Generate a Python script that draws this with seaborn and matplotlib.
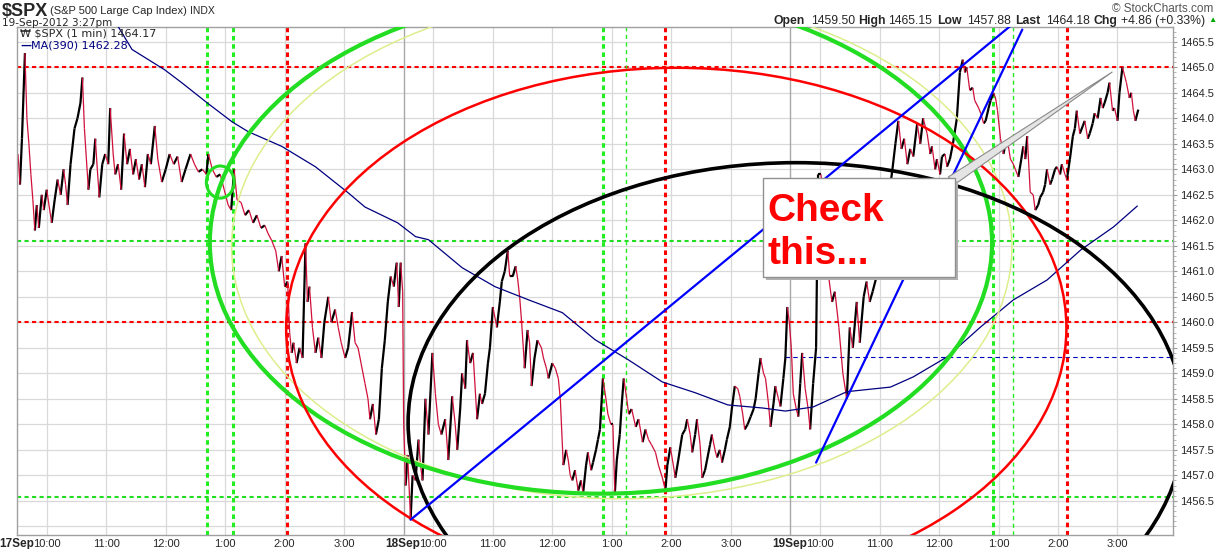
import matplotlib
matplotlib.use('Agg')
import numpy as np
import pandas as pd
import matplotlib.pyplot as plt
import seaborn as sns
from matplotlib.collections import LineCollection
from matplotlib.patches import Ellipse, Rectangle, Polygon

# 1 minute bars, 390 per session (17, 18, 19 Sep); bar number and last price
minute = [1, 3, 5, 8, 10, 12, 14, 16, 18, 20, 22, 25, 27, 30, 33, 35, 38, 41, 44, 47,
          49, 51, 54, 58, 61, 64, 66, 68, 70, 72, 74, 77, 79, 81, 83, 86, 89, 92, 94, 97,
          99, 102, 105, 108, 111, 114, 117, 120, 123, 126, 129, 132, 135, 139, 142, 146, 150, 154, 158, 162,
          166, 170, 175, 179, 183, 187, 191, 193, 197, 201, 205, 209, 213, 216, 219, 222, 226, 230, 234, 238,
          242, 246, 250, 253, 257, 261, 264, 267, 270, 273, 275, 277, 279, 282, 285, 288, 291, 293, 295, 298,
          301, 304, 307, 310, 314, 317, 321, 324, 327, 331, 334, 338, 341, 344, 347, 351, 354, 356, 359, 362,
          365, 368, 371, 374, 377, 380, 383, 385, 387, 389,
          390, 392, 394, 397, 399, 402, 405, 407, 409, 412, 415, 419, 422, 425, 428, 432, 435, 439, 442, 444,
          447, 449, 452, 454, 457, 460, 464, 467, 469, 472, 475, 477, 480, 484, 487, 489, 492, 495, 497, 500,
          503, 505, 507, 509, 512, 515, 517, 519, 522, 525, 529, 531, 534, 536, 540, 543, 546, 548, 551, 554,
          556, 558, 560, 563, 566, 569, 571, 574, 576, 579, 581, 584, 586, 588, 591, 594, 596, 599, 601, 603,
          605, 608, 610, 612, 615, 617, 620, 624, 627, 631, 634, 637, 640, 644, 647, 651, 654, 656, 659, 662,
          664, 667, 671, 674, 676, 679, 681, 684, 686, 689, 691, 694, 696, 699, 701, 704, 706, 709, 711, 714,
          716, 719, 721, 724, 727, 729, 732, 734, 737, 740, 743, 745, 748, 750, 753, 755, 758, 760, 763, 765,
          768, 770, 773, 775, 777, 779,
          781, 783, 786, 788, 790, 792, 795, 798, 800, 803, 806, 808, 811, 814, 818, 822, 825, 829, 833, 837,
          840, 843, 847, 850, 854, 857, 860, 863, 867, 870, 875, 879, 883, 886, 889, 892, 895, 898, 901, 904,
          908, 911, 914, 918, 921, 923, 926, 928, 931, 933, 936, 938, 941, 944, 948, 951, 954, 956, 958, 961,
          964, 966, 970, 972, 975, 977, 980, 982, 985, 987, 989, 992, 995, 997, 1000, 1002, 1005, 1007, 1010, 1013,
          1015, 1017, 1019, 1022, 1025, 1027, 1030, 1032, 1035, 1037, 1039, 1042, 1044, 1047, 1049, 1052, 1054, 1057, 1059, 1062,
          1065, 1067, 1069, 1072, 1075, 1077, 1080, 1082, 1085, 1087, 1090, 1093, 1095, 1097, 1100, 1102, 1105, 1107, 1110, 1112,
          1115, 1117, 1119, 1122, 1124, 1126, 1128, 1131]
price = [1463.3, 1462.7, 1463.6, 1465.28, 1464.0, 1463.5, 1462.9, 1462.4, 1461.8, 1462.3, 1461.85, 1462.5, 1462.2, 1462.6, 1462.2, 1461.95, 1462.4, 1462.8, 1462.5, 1463.0,
         1462.7, 1462.3, 1463.1, 1463.8, 1464.0, 1464.3, 1464.8, 1463.8, 1463.2, 1462.6, 1463.0, 1463.1, 1463.6, 1463.0, 1462.45, 1463.1, 1463.3, 1463.1, 1464.2, 1463.3,
         1462.9, 1463.1, 1462.6, 1463.7, 1463.1, 1463.4, 1462.9, 1463.2, 1462.8, 1463.1, 1462.65, 1463.3, 1463.1, 1463.85, 1463.2, 1462.75, 1463.0, 1463.3, 1463.1, 1463.25,
         1462.75, 1463.0, 1463.3, 1463.1, 1462.95, 1463.0, 1462.9, 1463.3, 1463.0, 1462.85, 1462.9, 1462.6, 1462.3, 1462.2, 1463.0, 1462.4, 1462.35, 1462.1, 1462.2, 1461.95,
         1462.1, 1461.85, 1461.9, 1461.75, 1461.6, 1461.4, 1461.0, 1461.3, 1460.7, 1460.8, 1459.8, 1459.4, 1459.6, 1459.2, 1459.5, 1459.3, 1461.55, 1460.4, 1460.7, 1459.9,
         1459.4, 1459.7, 1459.3, 1460.0, 1460.5, 1460.0, 1460.25, 1459.9, 1459.6, 1459.3, 1459.5, 1460.2, 1459.6, 1459.5, 1459.2, 1458.8, 1458.5, 1458.1, 1458.4, 1457.8,
         1458.1, 1459.1, 1459.65, 1460.4, 1460.9, 1460.7, 1461.17, 1460.3, 1461.17, 1460.6,
         1458.0, 1456.8, 1457.4, 1456.13, 1457.0, 1456.9, 1457.7, 1457.2, 1456.9, 1458.5, 1457.8, 1459.4, 1458.6, 1458.0, 1457.8, 1458.1, 1457.3, 1458.55, 1458.0, 1457.5,
         1458.3, 1459.0, 1458.7, 1459.65, 1459.2, 1459.4, 1458.1, 1458.6, 1458.4, 1458.6, 1459.2, 1459.5, 1460.3, 1459.9, 1460.4, 1460.8, 1461.0, 1461.4, 1460.9, 1460.9,
         1461.1, 1460.85, 1460.5, 1460.0, 1459.1, 1459.85, 1459.6, 1458.75, 1459.3, 1459.65, 1459.5, 1459.3, 1459.1, 1458.9, 1459.2, 1459.1, 1458.9, 1458.5, 1457.2, 1457.5,
         1457.3, 1457.0, 1456.9, 1457.1, 1456.7, 1456.9, 1456.65, 1457.2, 1457.45, 1457.1, 1457.25, 1457.5, 1457.7, 1457.9, 1458.9, 1458.5, 1458.2, 1458.0, 1458.0, 1456.65,
         1457.3, 1457.8, 1458.4, 1458.9, 1458.5, 1458.2, 1458.3, 1457.95, 1458.1, 1457.65, 1457.9, 1457.7, 1457.6, 1457.45, 1457.2, 1456.95, 1456.7, 1457.2, 1457.55, 1457.2,
         1456.95, 1457.3, 1457.8, 1457.9, 1458.1, 1457.8, 1457.45, 1457.8, 1458.1, 1457.6, 1456.95, 1457.1, 1457.3, 1457.6, 1457.8, 1457.5, 1457.35, 1457.5, 1457.25, 1457.5,
         1457.7, 1457.95, 1458.3, 1458.75, 1458.7, 1458.55, 1458.2, 1457.9, 1458.0, 1458.15, 1458.3, 1458.5, 1459.0, 1459.3, 1459.0, 1458.9, 1458.4, 1457.95, 1458.4, 1458.75,
         1458.5, 1458.35, 1458.9, 1459.3, 1460.3, 1460.0,
         1459.5, 1458.6, 1458.3, 1458.15, 1458.8, 1459.4, 1458.7, 1458.3, 1457.9, 1458.8, 1459.5, 1462.9, 1462.9, 1461.8, 1461.0, 1460.4, 1460.6, 1459.9, 1459.0, 1458.5,
         1459.9, 1459.5, 1460.4, 1459.6, 1460.5, 1460.8, 1460.4, 1460.6, 1460.9, 1461.0, 1461.6, 1462.4, 1463.0, 1463.5, 1463.95, 1463.4, 1463.6, 1463.1, 1463.4, 1463.25,
         1463.9, 1463.5, 1464.0, 1463.7, 1463.3, 1463.45, 1463.0, 1463.2, 1462.9, 1463.25, 1463.3, 1463.05, 1463.2, 1463.5, 1464.0, 1464.9, 1465.15, 1464.9, 1465.0, 1464.55,
         1464.6, 1464.35, 1464.2, 1464.1, 1463.9, 1463.95, 1464.2, 1464.35, 1464.5, 1464.4, 1464.15, 1463.6, 1463.3, 1463.5, 1463.45, 1463.2, 1463.1, 1463.0, 1462.85, 1463.2,
         1463.45, 1463.2, 1463.65, 1462.55, 1462.5, 1462.2, 1462.3, 1462.45, 1462.55, 1462.7, 1463.0, 1462.7, 1462.8, 1463.0, 1463.05, 1462.9, 1463.1, 1462.9, 1462.8, 1463.2,
         1463.65, 1463.8, 1464.15, 1463.7, 1463.85, 1463.95, 1463.6, 1463.7, 1463.9, 1464.1, 1464.0, 1464.4, 1464.2, 1464.3, 1464.5, 1464.7, 1464.15, 1464.2, 1463.95, 1464.5,
         1465.0, 1464.85, 1464.7, 1464.4, 1464.5, 1464.15, 1463.95, 1464.17]

# MA(390) overlay
ma_minute = [102, 116, 149, 166, 192, 217, 233, 267, 301, 334, 351, 384, 402, 415, 449, 482, 516, 550, 583, 617,
             651, 684, 717, 752, 775, 803, 837, 881, 904, 938, 972, 1005, 1039, 1073, 1106, 1130]
ma_value = [1465.8, 1465.35, 1464.95, 1464.7, 1464.3, 1463.93, 1463.74, 1463.45, 1463.05, 1462.54, 1462.26, 1461.95, 1461.68, 1461.62, 1461.07, 1460.7, 1460.44, 1460.19, 1459.66, 1459.26,
            1458.83, 1458.62, 1458.38, 1458.32, 1458.26, 1458.34, 1458.64, 1458.73, 1458.93, 1459.32, 1459.91, 1460.44, 1460.83, 1461.42, 1461.87, 1462.28]

# hour ticks
tick_minute = [30, 90, 150, 210, 270, 330, 420, 480, 540, 600, 660, 720, 810, 870, 930, 990, 1050, 1110]
tick_label = ['10:00', '11:00', '12:00', '1:00', '2:00', '3:00'] * 3
day_start = [390, 780]
day_label = ['17Sep', '18Sep', '19Sep']
day_label_minute = [30, 420, 810]

# annotation levels drawn on the chart
red_levels = [1465.0, 1460.0]
green_levels = [1461.6, 1456.58]
green_times_thick = [192, 218, 591, 984]
green_times_thin = [614, 1005]
red_times = [272, 654, 1059]

W, H = 1222, 549
sns.set_style('white')
plt.rcParams['font.family'] = ['Liberation Sans', 'DejaVu Sans']

fig = plt.figure(figsize=(W / 100, H / 100), dpi=100)
ax = fig.add_axes([17 / W, 1 - 535 / H, (1173 - 17) / W, (535 - 27) / H])
ax.set_xlim(0, 1166)
ax.set_ylim(1455.83, 1465.79)

# grid
for y in np.arange(1456.0, 1466.0, 0.5):
    ax.axhline(y, color='#d9d9d9', lw=0.9, zorder=0)
for t in tick_minute:
    ax.axvline(t, color='#d9d9d9', lw=0.9, zorder=0)
for t in day_start:
    ax.axvline(t, color='#a8a8a8', lw=1.0, zorder=0)

# levels
for y in red_levels:
    ax.axhline(y, color='#ff0000', lw=1.5, ls=(0, (2, 1.6)), zorder=1)
for y in green_levels:
    ax.axhline(y, color='#22dd22', lw=1.5, ls=(0, (2, 1.6)), zorder=1)
ax.plot([775, 1166], [1459.32, 1459.32], color='#0000bb', lw=0.8, ls=(0, (4, 3)), zorder=1)
for t in green_times_thick:
    ax.axvline(t, color='#22ee22', lw=2.2, ls=(0, (1.5, 1.2)), zorder=1)
for t in green_times_thin:
    ax.axvline(t, color='#22ee22', lw=1.0, ls=(0, (3, 2.5)), zorder=1)
for t in red_times:
    ax.axvline(t, color='#ff0000', lw=2.2, ls=(0, (1.5, 1.2)), zorder=1)

# price line, black on up ticks, red on down ticks
df = pd.DataFrame({'minute': minute, 'price': price})
pts = df[['minute', 'price']].to_numpy()
segs = np.stack([pts[:-1], pts[1:]], axis=1)
up = np.diff(df['price'].to_numpy()) >= 0
ax.add_collection(LineCollection(segs[up], colors='black', linewidths=1.6, zorder=2))
ax.add_collection(LineCollection(segs[~up], colors='#d0103a', linewidths=0.9, zorder=2))

# moving average
sns.lineplot(x=ma_minute, y=ma_value, color='#000080', lw=0.9, ax=ax, zorder=3)

# drawn shapes
ax.add_patch(Ellipse((610, 1461.48), 787, 9.88, fill=False, ec='#dcef8c', lw=1.1, zorder=4))
ax.add_patch(Ellipse((589, 1461.56), 789, 9.84, fill=False, ec='#22dd22', lw=3.0, zorder=4))
ax.add_patch(Ellipse((665, 1459.89), 787, 10.2, fill=False, ec='#ff0000', lw=1.8, zorder=4))
ax.add_patch(Ellipse((786, 1458.03), 783, 10.2, fill=False, ec='black', lw=2.6, zorder=4))
ax.add_patch(Ellipse((205, 1462.75), 28, 0.63, fill=False, ec='#22dd22', lw=2.2, zorder=4))
ax.plot([397, 1007], [1456.13, 1465.89], color='#0000ff', lw=1.6, zorder=4)
ax.plot([806, 1014], [1457.25, 1465.74], color='#0000ff', lw=1.6, zorder=4)

# callout
ax.add_patch(Polygon([(939.4, 1462.85), (946.4, 1462.71), (1104.9, 1464.91)],
                     closed=True, fc='#e4e4e4', ec='#8a8a8a', lw=0.8, zorder=9))
ax.add_patch(Rectangle((755.7, 1460.83), 193.7, 1.94, fc='#b0b0b0', ec='none', zorder=9))
ax.add_patch(Rectangle((752.7, 1460.89), 193.7, 1.94, fc='white', ec='#909090', lw=1.0, zorder=10))
ax.text(756.5, 1461.99, 'Check', color='#ff0000', fontsize=28, fontweight='bold',
        va='baseline', ha='left', zorder=11)
ax.text(756.5, 1461.15, 'this...', color='#ff0000', fontsize=28, fontweight='bold',
        va='baseline', ha='left', zorder=11)

# axes
ax.yaxis.tick_right()
ax.set_yticks(np.arange(1456.5, 1465.6, 0.5))
ax.set_yticklabels(['%.1f' % v for v in np.arange(1456.5, 1465.6, 0.5)])
ax.set_yticks(np.arange(1456.0, 1465.8, 0.1), minor=True)
ax.tick_params(axis='y', which='major', length=3, color='#999999', labelsize=8, pad=2)
ax.tick_params(axis='y', which='minor', length=2, color='#aaaaaa')
ax.set_xticks(tick_minute)
ax.set_xticklabels(tick_label)
ax.tick_params(axis='x', length=0, labelsize=8, pad=3)
ax.set_xlabel('')
ax.set_ylabel('')
for s in ax.spines.values():
    s.set_color('#a0a0a0')
    s.set_linewidth(1.0)
for d, t in zip(day_label, day_label_minute):
    ax.annotate(d, xy=(t, 0), xycoords=ax.get_xaxis_transform(), xytext=(-13, -3),
                textcoords='offset pixels', ha='right', va='top', fontsize=8.5, fontweight='bold')

# header texts
def ftext(x, y, s, **kw):
    fig.text(x / W, 1 - y / H, s, va='center', **kw)

ftext(2, 11, '$SPX', fontsize=13, fontweight='bold')
ftext(50, 11, '(S&P 500 Large Cap Index)', fontsize=8)
ftext(190, 11, 'INDX', fontsize=7.5)
ftext(2, 23, '19-Sep-2012 3:27pm', fontsize=7.5, family='DejaVu Sans')
ftext(1112, 9, '\u00a9 StockCharts.com', fontsize=8.5, color='#555555')
hdr = [(773, 'Open', True), (811, '1459.50', False), (858, 'High', True), (888, '1465.15', False),
       (937, 'Low', True), (967, '1457.88', False), (1015, 'Last', True), (1046, '1464.18', False),
       (1094, 'Chg', True), (1121, '+4.86 (+0.33%)', False)]
for x, s, b in hdr:
    ftext(x, 21, s, fontsize=8.8, fontweight='bold' if b else 'normal')
ftext(1208, 21, '\u25b2', fontsize=6, color='#00aa00')
ftext(20, 34, '\u20a9 $SPX (1 min) 1464.17', fontsize=8, family='DejaVu Sans')
ftext(20, 46, '\u2014', fontsize=8, color='#000080', fontweight='bold', family='DejaVu Sans')
ftext(31, 46, 'MA(390) 1462.28', fontsize=8, color='#000080', family='DejaVu Sans')

fig.savefig('out.png', dpi=100)
